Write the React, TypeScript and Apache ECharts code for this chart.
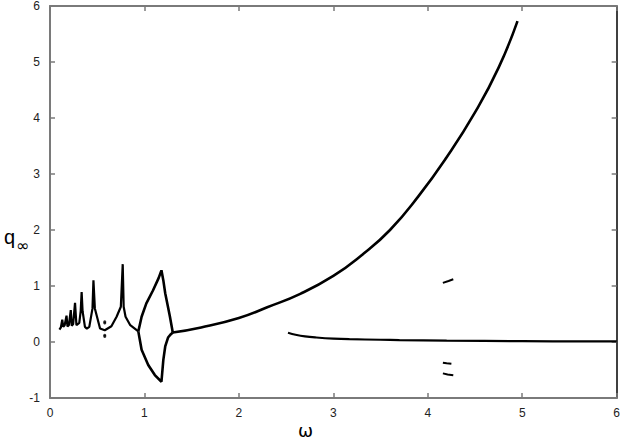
import React, { useEffect, useRef } from "react";
import * as echarts from "echarts";

// ω (x) and q∞ (y) readings
const lowOmega = [0.10, 0.115, 0.13, 0.14, 0.155, 0.175, 0.185, 0.20, 0.22, 0.23, 0.245, 0.265, 0.28, 0.31, 0.325, 0.335, 0.345, 0.37, 0.39, 0.416, 0.45, 0.46, 0.475, 0.53, 0.58, 0.65, 0.705, 0.75, 0.77, 0.78, 0.80, 0.85, 0.935];
const lowQ = [0.22, 0.26, 0.40, 0.27, 0.30, 0.47, 0.28, 0.30, 0.57, 0.29, 0.32, 0.70, 0.30, 0.34, 0.55, 0.89, 0.55, 0.27, 0.24, 0.27, 0.60, 1.10, 0.60, 0.24, 0.21, 0.28, 0.45, 0.63, 1.39, 0.63, 0.45, 0.30, 0.19];

const upperOmega = [0.935, 0.95, 0.97, 1.02, 1.09, 1.15, 1.18, 1.20, 1.22, 1.25, 1.27, 1.30];
const upperQ = [0.19, 0.30, 0.45, 0.69, 0.92, 1.14, 1.28, 1.10, 0.87, 0.62, 0.45, 0.17];

const lowerOmega = [0.935, 0.95, 0.97, 1.04, 1.11, 1.18, 1.20, 1.22, 1.25, 1.28, 1.30];
const lowerQ = [0.19, 0.05, -0.14, -0.41, -0.59, -0.71, -0.32, -0.08, 0.08, 0.14, 0.17];

const mainOmega = [1.30, 1.60, 2.00, 2.30, 2.65, 3.00, 3.30, 3.60, 3.90, 4.20, 4.50, 4.75, 4.95];
const mainQ = [0.17, 0.26, 0.43, 0.62, 0.86, 1.18, 1.55, 2.00, 2.60, 3.30, 4.10, 4.90, 5.73];

const tailOmega = [2.52, 2.6, 2.7, 2.82, 3.0, 3.17, 3.5, 3.7, 4.2, 5.0, 6.0];
const tailQ = [0.165, 0.13, 0.10, 0.08, 0.06, 0.05, 0.04, 0.035, 0.025, 0.015, 0.01];

const seg1Omega = [4.16, 4.22, 4.27];
const seg1Q = [1.055, 1.09, 1.12];
const seg2Omega = [4.16, 4.20, 4.25];
const seg2Q = [-0.37, -0.38, -0.39];
const seg3Omega = [4.16, 4.21, 4.27];
const seg3Q = [-0.56, -0.58, -0.595];

const dotOmega = [0.58, 0.58, 0.58, 0.58];
const dotQ = [0.34, 0.36, 0.10, 0.12];

const xTicks = [0, 1, 2, 3, 4, 5, 6];
const yTicks = [-1, 0, 1, 2, 3, 4, 5, 6];

const zip = (a: number[], b: number[]) => a.map((v, i) => [v, b[i]]);

export default function App() {
  const ref = useRef<HTMLDivElement>(null);
  useEffect(() => {
    if (!ref.current) return;
    const chart = echarts.init(ref.current, undefined, { renderer: "svg" });
    const grey = "#7a7a7a";
    const font = "Liberation Sans, Arial, sans-serif";
    const line = (name: string, o: number[], q: number[], w = 2.5, smooth: number | boolean = false) => ({
      name,
      type: "line",
      data: zip(o, q),
      showSymbol: false,
      smooth,
      lineStyle: { color: "#000", width: w },
      xAxisIndex: 0,
      yAxisIndex: 0,
      z: 3,
    });
    chart.setOption({
      animation: false,
      grid: { left: 50, right: 6, top: 5, bottom: 48, containLabel: false },
      xAxis: [
        {
          type: "value", min: xTicks[0], max: xTicks[xTicks.length - 1], interval: 1,
          axisLine: { onZero: false, lineStyle: { color: grey, width: 2 } },
          axisTick: { inside: true, length: 5, lineStyle: { color: grey, width: 1.5 } },
          axisLabel: { color: "#222", fontSize: 12, fontFamily: font, margin: 9 },
          splitLine: { show: false },
        },
        {
          type: "value", position: "top", min: xTicks[0], max: xTicks[xTicks.length - 1], interval: 1,
          axisLine: { onZero: false, lineStyle: { color: grey, width: 2 } },
          axisTick: { inside: true, length: 5, lineStyle: { color: grey, width: 1.5 } },
          axisLabel: { show: false },
          splitLine: { show: false },
        },
      ],
      yAxis: [
        {
          type: "value", min: yTicks[0], max: yTicks[yTicks.length - 1], interval: 1,
          axisLine: { show: true, onZero: false, lineStyle: { color: grey, width: 2 } },
          axisTick: { show: true, inside: true, length: 5, lineStyle: { color: grey, width: 1.5 } },
          axisLabel: { color: "#222", fontSize: 12, fontFamily: font, margin: 10 },
          splitLine: { show: false },
        },
        {
          type: "value", position: "right", min: yTicks[0], max: yTicks[yTicks.length - 1], interval: 1,
          axisLine: { show: true, onZero: false, lineStyle: { color: "#000", width: 1.5 } },
          axisTick: { show: true, inside: true, length: 5, lineStyle: { color: grey, width: 1.5 } },
          axisLabel: { show: false },
          splitLine: { show: false },
        },
      ],
      graphic: [
        { type: "text", left: 298, top: 421, style: { text: "ω", font: "18px DejaVu Sans", fill: "#000" } },
        { type: "text", left: 4, top: 227, style: { text: "q", font: "20px Liberation Sans", fill: "#000" } },
        { type: "text", left: 16, top: 237, style: { text: "∞", font: "16px DejaVu Sans", fill: "#000" } },
      ],
      series: [
        line("low", lowOmega, lowQ, 2.2),
        line("upper", upperOmega, upperQ, 2.6),
        line("lower", lowerOmega, lowerQ, 2.6),
        line("main", mainOmega, mainQ, 2.6, 0.5),
        line("tail", tailOmega, tailQ, 2.2, 0.4),
        line("s1", seg1Omega, seg1Q, 2),
        line("s2", seg2Omega, seg2Q, 2),
        line("s3", seg3Omega, seg3Q, 2),
        {
          type: "scatter",
          data: zip(dotOmega, dotQ),
          symbolSize: 3,
          itemStyle: { color: "#000" },
        },
      ],
    });
    return () => chart.dispose();
  }, []);
  return <div ref={ref} style={{ position: "fixed", left: 0, top: 0, width: 623, height: 446, background: "#fff" }} />;
}
